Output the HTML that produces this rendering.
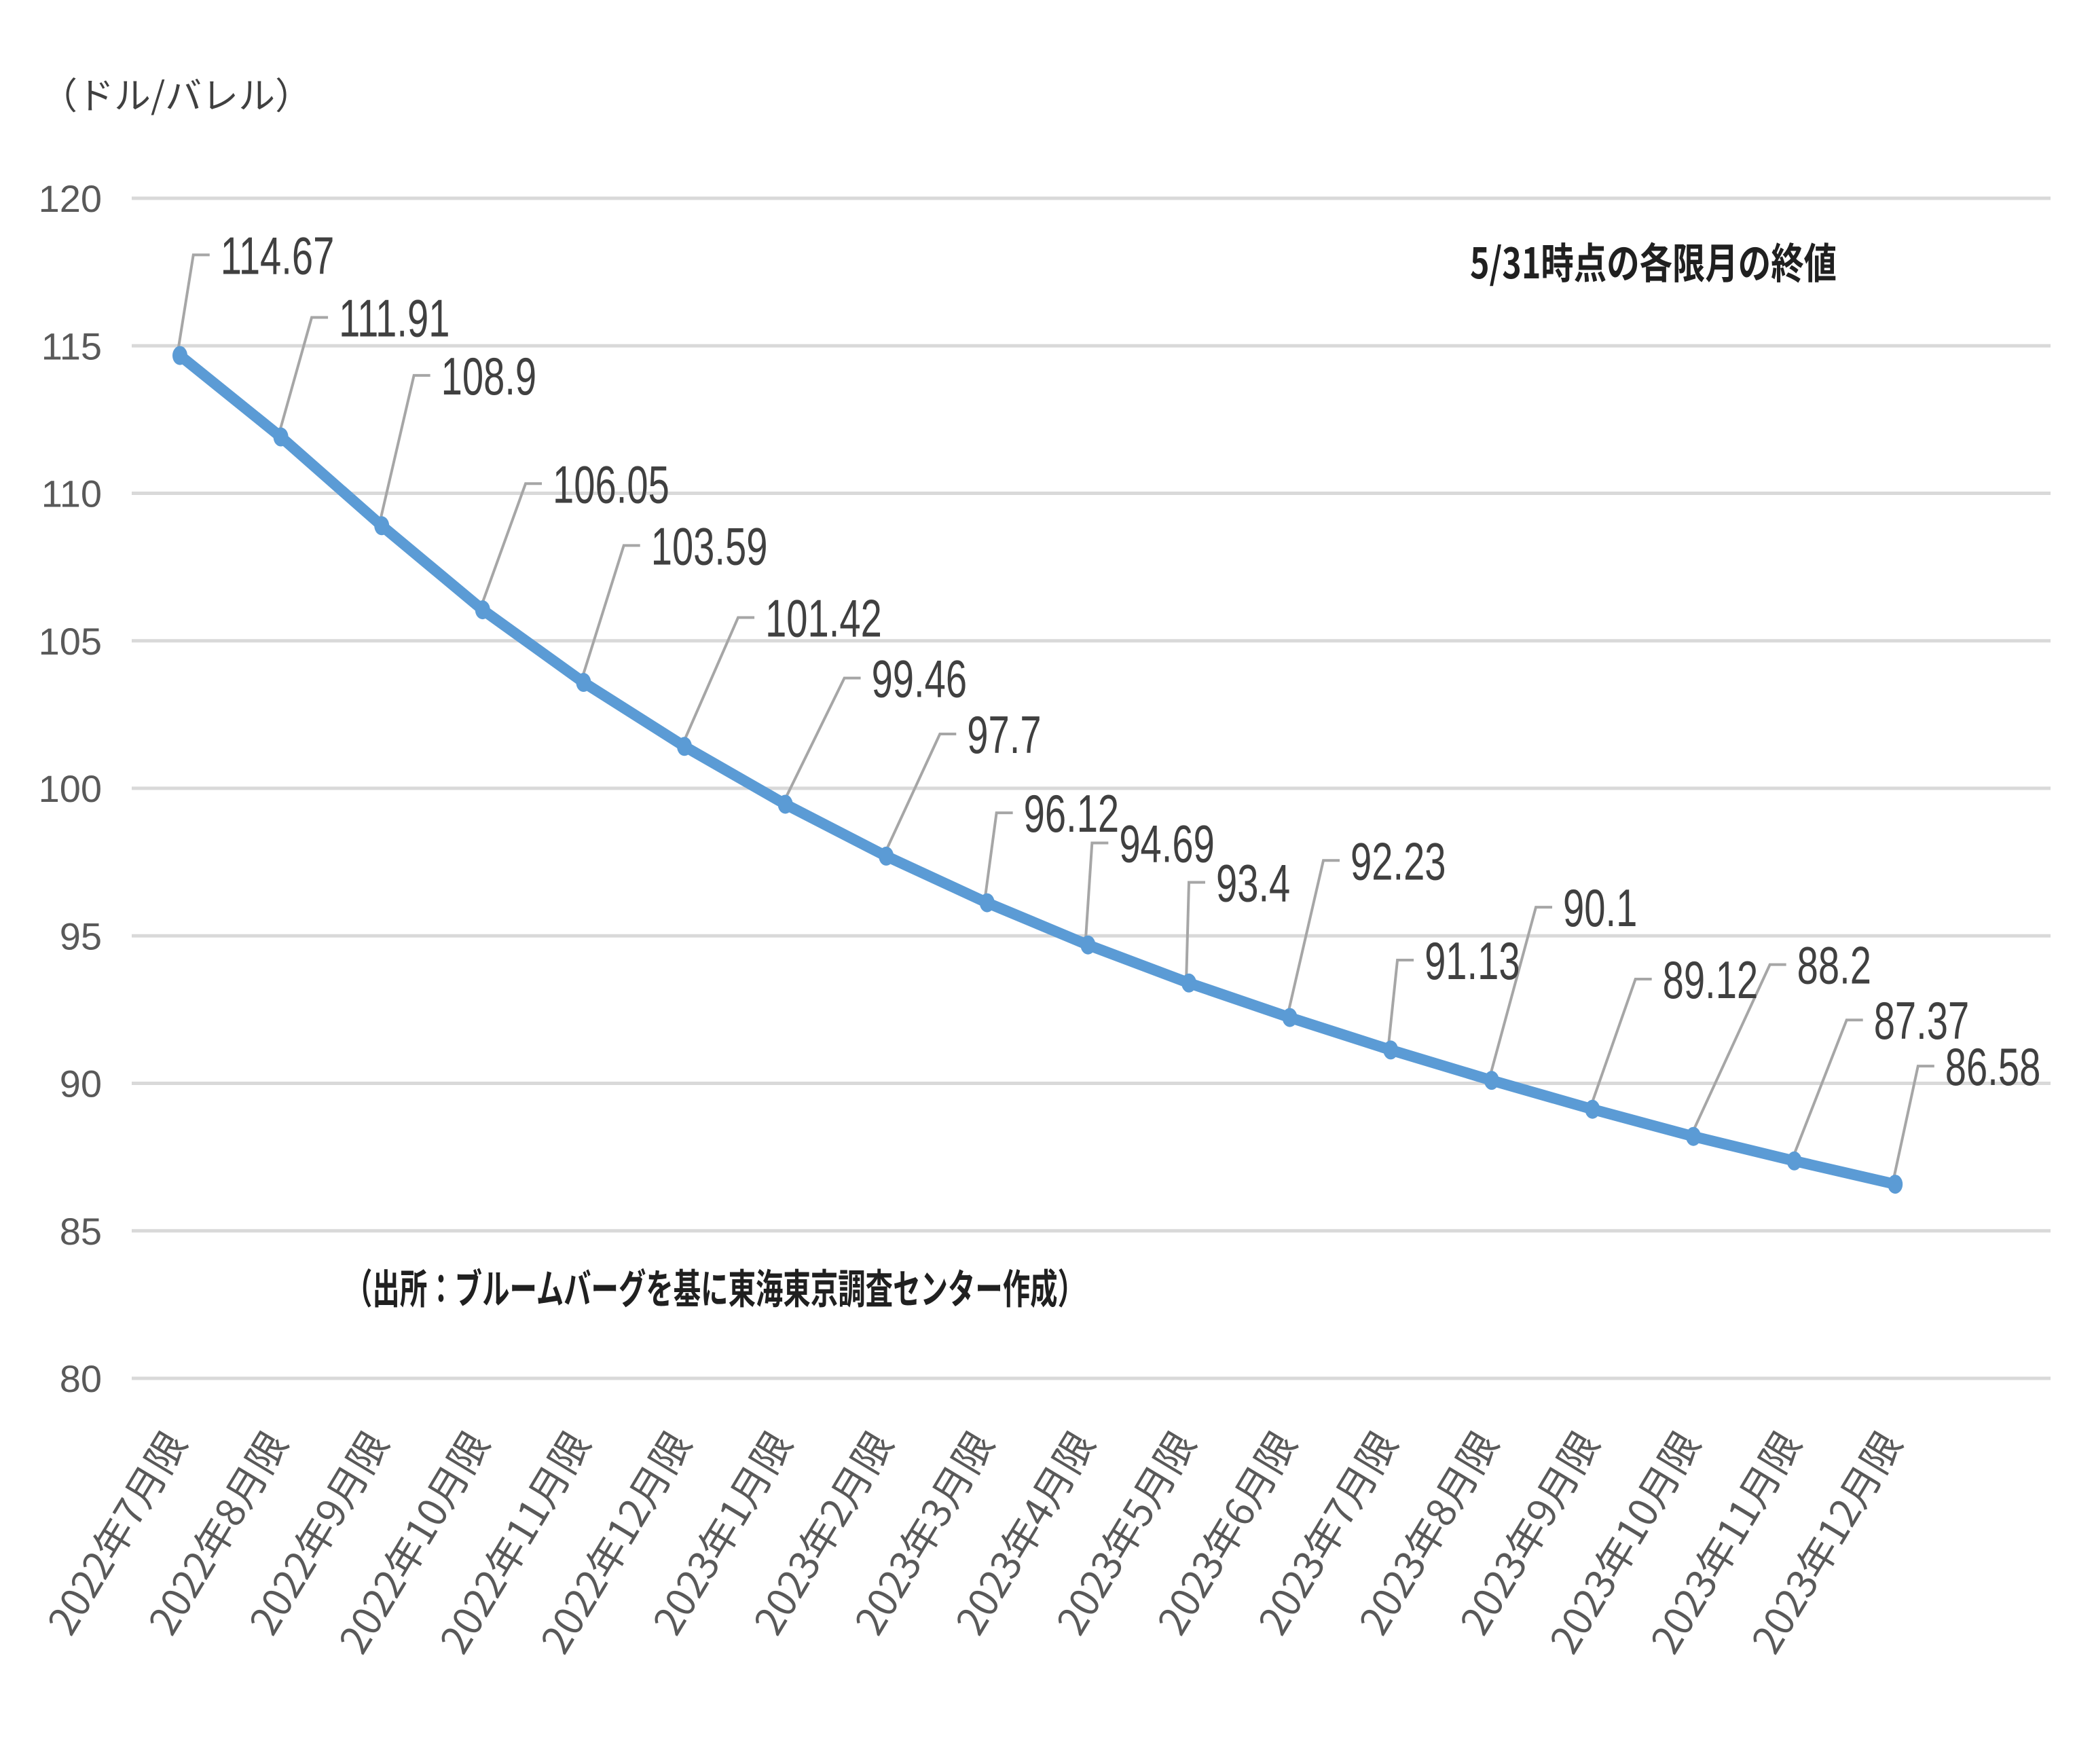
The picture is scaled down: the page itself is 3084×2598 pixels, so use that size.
<!DOCTYPE html>
<html><head><meta charset="utf-8"><style>
html,body{margin:0;padding:0;background:#fff;}
svg{display:block;font-family:"Liberation Sans Narrow","Liberation Sans","Noto Sans CJK JP",sans-serif;}
</style></head><body>
<svg id="chart" width="3084" height="2598" viewBox="0 0 3084 2598" xmlns="http://www.w3.org/2000/svg">
<text x="60" y="160" font-size="54" fill="#404040" font-family="Liberation Sans Narrow, Noto Sans CJK JP, sans-serif">（ドル/バレル）</text>
<text x="2165" y="410" font-size="62" font-weight="bold" fill="#202020" textLength="540" lengthAdjust="spacingAndGlyphs" font-family="Liberation Sans Narrow, Noto Sans CJK JP, sans-serif">5/31時点の各限月の終値</text>
<text x="508" y="1920" font-size="60" font-weight="bold" fill="#202020" textLength="1090" lengthAdjust="spacingAndGlyphs" font-family="Liberation Sans Narrow, Noto Sans CJK JP, sans-serif">（出所：ブルームバーグを基に東海東京調査センター作成）</text>
<g id="grid"></g><g id="yticks"></g><g id="xticks"></g><g id="leaders"></g><g id="series"></g><g id="labels"></g>
</svg>
<script>
const categories=["2022年7月限","2022年8月限","2022年9月限","2022年10月限","2022年11月限","2022年12月限","2023年1月限","2023年2月限","2023年3月限","2023年4月限","2023年5月限","2023年6月限","2023年7月限","2023年8月限","2023年9月限","2023年10月限","2023年11月限","2023年12月限"];
const values=[114.67,111.91,108.9,106.05,103.59,101.42,99.46,97.7,96.12,94.69,93.4,92.23,91.13,90.1,89.12,88.2,87.37,86.58];
const yTicks=[80,85,90,95,100,105,110,115,120];
const labelDx=[10,23,24,32,30,40,44,40,7,3,0,25,5,33,32,57,39,17];
const labelDy=[-75,-89,-112,-94,-102,-96,-94,-91,-67,-76,-75,-117,-67,-129,-97,-128,-105,-88];
const NS="http://www.w3.org/2000/svg";
const S=1.977;
function x(i){return 265+i*148.6;}
function y(v){return 2030-(v-80)*(2030-292)/40;}
function mk(t,a,p){const e=document.createElementNS(NS,t);for(const k in a)e.setAttribute(k,a[k]);document.getElementById(p).appendChild(e);return e;}
yTicks.forEach(v=>{
 const g=mk('line',{x1:194,x2:3020,y1:y(v),y2:y(v),stroke:'#D9D9D9','stroke-width':5},'grid');
 
 
 const t=mk('text',{x:150,y:y(v)+20,'text-anchor':'end','font-size':56,fill:'#595959'},'yticks');
 t.textContent=v;
 
 
});
categories.forEach((c,i)=>{
 const X=x(i)+12,Y=2125;
 const t=mk('text',{x:X,y:Y,'text-anchor':'end','font-size':58,fill:'#595959',transform:`rotate(-59 ${X} ${Y})`,'font-family':'Liberation Sans Narrow, Noto Sans CJK JP, sans-serif'},'xticks');
 t.textContent=c;
 
 
});
const pts=values.map((v,i)=>x(i)+','+y(v)).join(' ');
const pl=mk('polyline',{points:pts,fill:'none',stroke:'#5B9BD5','stroke-width':16,'stroke-linejoin':'round'},'series');


values.forEach((v,i)=>{
 const px=x(i),py=y(v);
 const m=mk('ellipse',{cx:px,cy:py,rx:11,ry:14,fill:'#5B9BD5'},'series');
 
 
 const ex=px+labelDx[i]*S,ey=py+labelDy[i]*S;
 const l=mk('polyline',{points:`${px-4},${py} ${ex},${ey} ${ex+24},${ey}`,fill:'none',stroke:'#A6A6A6','stroke-width':4},'leaders');
 
 
 const tx=ex+40,ty=ey+28;
 const t=mk('text',{x:tx,y:ty,'font-size':78,fill:'#404040',transform:`translate(${tx} 0) scale(0.72 1) translate(${-tx} 0)`},'labels');
 t.textContent=v;
 
 
});
</script>
</body></html>
